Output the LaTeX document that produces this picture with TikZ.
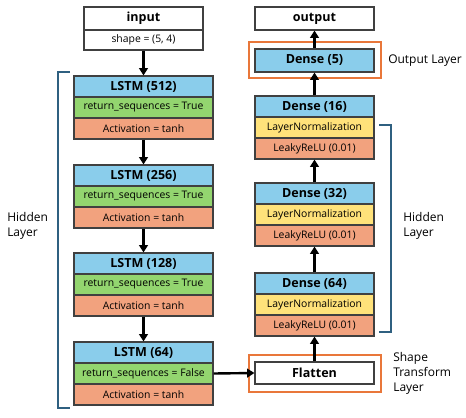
\documentclass[tikz,border=0pt]{standalone}
\usepackage{fontspec}
\setmainfont{Open Sans}
\usetikzlibrary{arrows.meta}
\definecolor{cblue}{HTML}{8ACDEB}
\definecolor{cgreen}{HTML}{93D56F}
\definecolor{corange}{HTML}{F2A27E}
\definecolor{cyellow}{HTML}{FFE27A}
\definecolor{cline}{HTML}{404040}
\definecolor{cframe}{HTML}{E9773A}
\definecolor{cbrack}{HTML}{2F6080}
\tikzset{
  row/.style={draw=cline, line width=0.8pt, inner sep=0pt, font=\fontsize{7.8}{9}\selectfont},
  lw/.style={minimum width=104.25pt},
  rw/.style={minimum width=89.25pt},
  h21/.style={minimum height=15.75pt},
  h23/.style={minimum height=17.25pt},
  hdr/.style={font=\fontsize{9.4}{11}\selectfont\bfseries},
  flow/.style={line width=1.8pt, -{Triangle[length=5.5pt,width=6.5pt]}},
  frame/.style={draw=cframe, line width=1.5pt},
  brack/.style={draw=cbrack, line width=0.8pt},
  lbl/.style={font=\fontsize{9}{11.25}\selectfont, align=left, anchor=west, inner sep=0pt}
}
\begin{document}
\begin{tikzpicture}[x=0.75pt,y=-0.75pt]
\useasboundingbox (0,0) rectangle (466,417);
% left column
\node[row,rw,h23,hdr,fill=white] (in) at (143.5,18.5) {input};
\node[row,rw,minimum height=15pt,fill=white] (ins) at (143.5,40) {shape = (5, 4)};
\foreach \n/\u/\t/\f [count=\i] in {512/76/True/tanh, 256/165/True/tanh, 128/253/True/tanh, 64/342/False/tanh}{
  \node[row,lw,h21,hdr,fill=cblue] (l\i h) at (143.5,\u+10.5) {LSTM (\n)};
  \node[row,lw,h21,fill=cgreen] (l\i r) at (143.5,\u+31.5) {return\_sequences = \t};
  \node[row,lw,h21,fill=corange] (l\i a) at (143.5,\u+52.5) {Activation = \f};
}
% right column
\node[row,rw,h23,hdr,fill=white] (out) at (314.5,18.5) {output};
\node[row,rw,h23,hdr,fill=cblue] (d5) at (314.5,60.5) {Dense (5)};
\foreach \n/\u [count=\i] in {16/96, 32/183, 64/273}{
  \node[row,rw,h21,hdr,fill=cblue] (d\i h) at (314.5,\u+10.5) {Dense (\n)};
  \node[row,rw,h21,fill=cyellow] (d\i n) at (314.5,\u+31.5) {LayerNormalization};
  \node[row,rw,h21,fill=corange] (d\i a) at (314.5,\u+52.5) {LeakyReLU (0.01)};
}
\node[row,rw,minimum height=16.5pt,hdr,fill=white] (flat) at (314.5,373) {Flatten};
% frames
\node[frame,minimum width=99pt,minimum height=27pt,inner sep=0pt] (fo) at (315,60) {};
\node[frame,minimum width=99pt,minimum height=27.75pt,inner sep=0pt] (ff) at (315,373.5) {};
% arrows
\draw[flow] (ins.south) -- (l1h.north);
\draw[flow] (l1a.south) -- (l2h.north);
\draw[flow] (l2a.south) -- (l3h.north);
\draw[flow] (l3a.south) -- (l4h.north);
\draw[flow] (l4r.east) -- (flat.west);
\draw[flow] (flat.north) -- (d3a.south);
\draw[flow] (d3h.north) -- (d2a.south);
\draw[flow] (d2h.north) -- (d1a.south);
\draw[flow] (d1h.north) -- (d5.south);
\draw[flow] (d5.north) -- (out.south);
% brackets
\coordinate (lb1) at (70,72);
\coordinate (lb2) at (70,408);
\draw[brack] (lb1) -- (58,72) -- (58,408) -- (lb2);
\coordinate (rb1) at (379,125);
\coordinate (rb2) at (379,332);
\draw[brack] (rb1) -- (391,125) -- (391,332) -- (rb2);
% labels
\node[lbl] (hl) at (7,225.5) {Hidden\\Layer};
\node[lbl] (hr) at (403,225.5) {Hidden\\Layer};
\node[lbl] (ol) at (388,61) {Output Layer};
\node[lbl] (sl) at (393,373) {Shape\\Transform\\Layer};
\end{tikzpicture}
\end{document}
